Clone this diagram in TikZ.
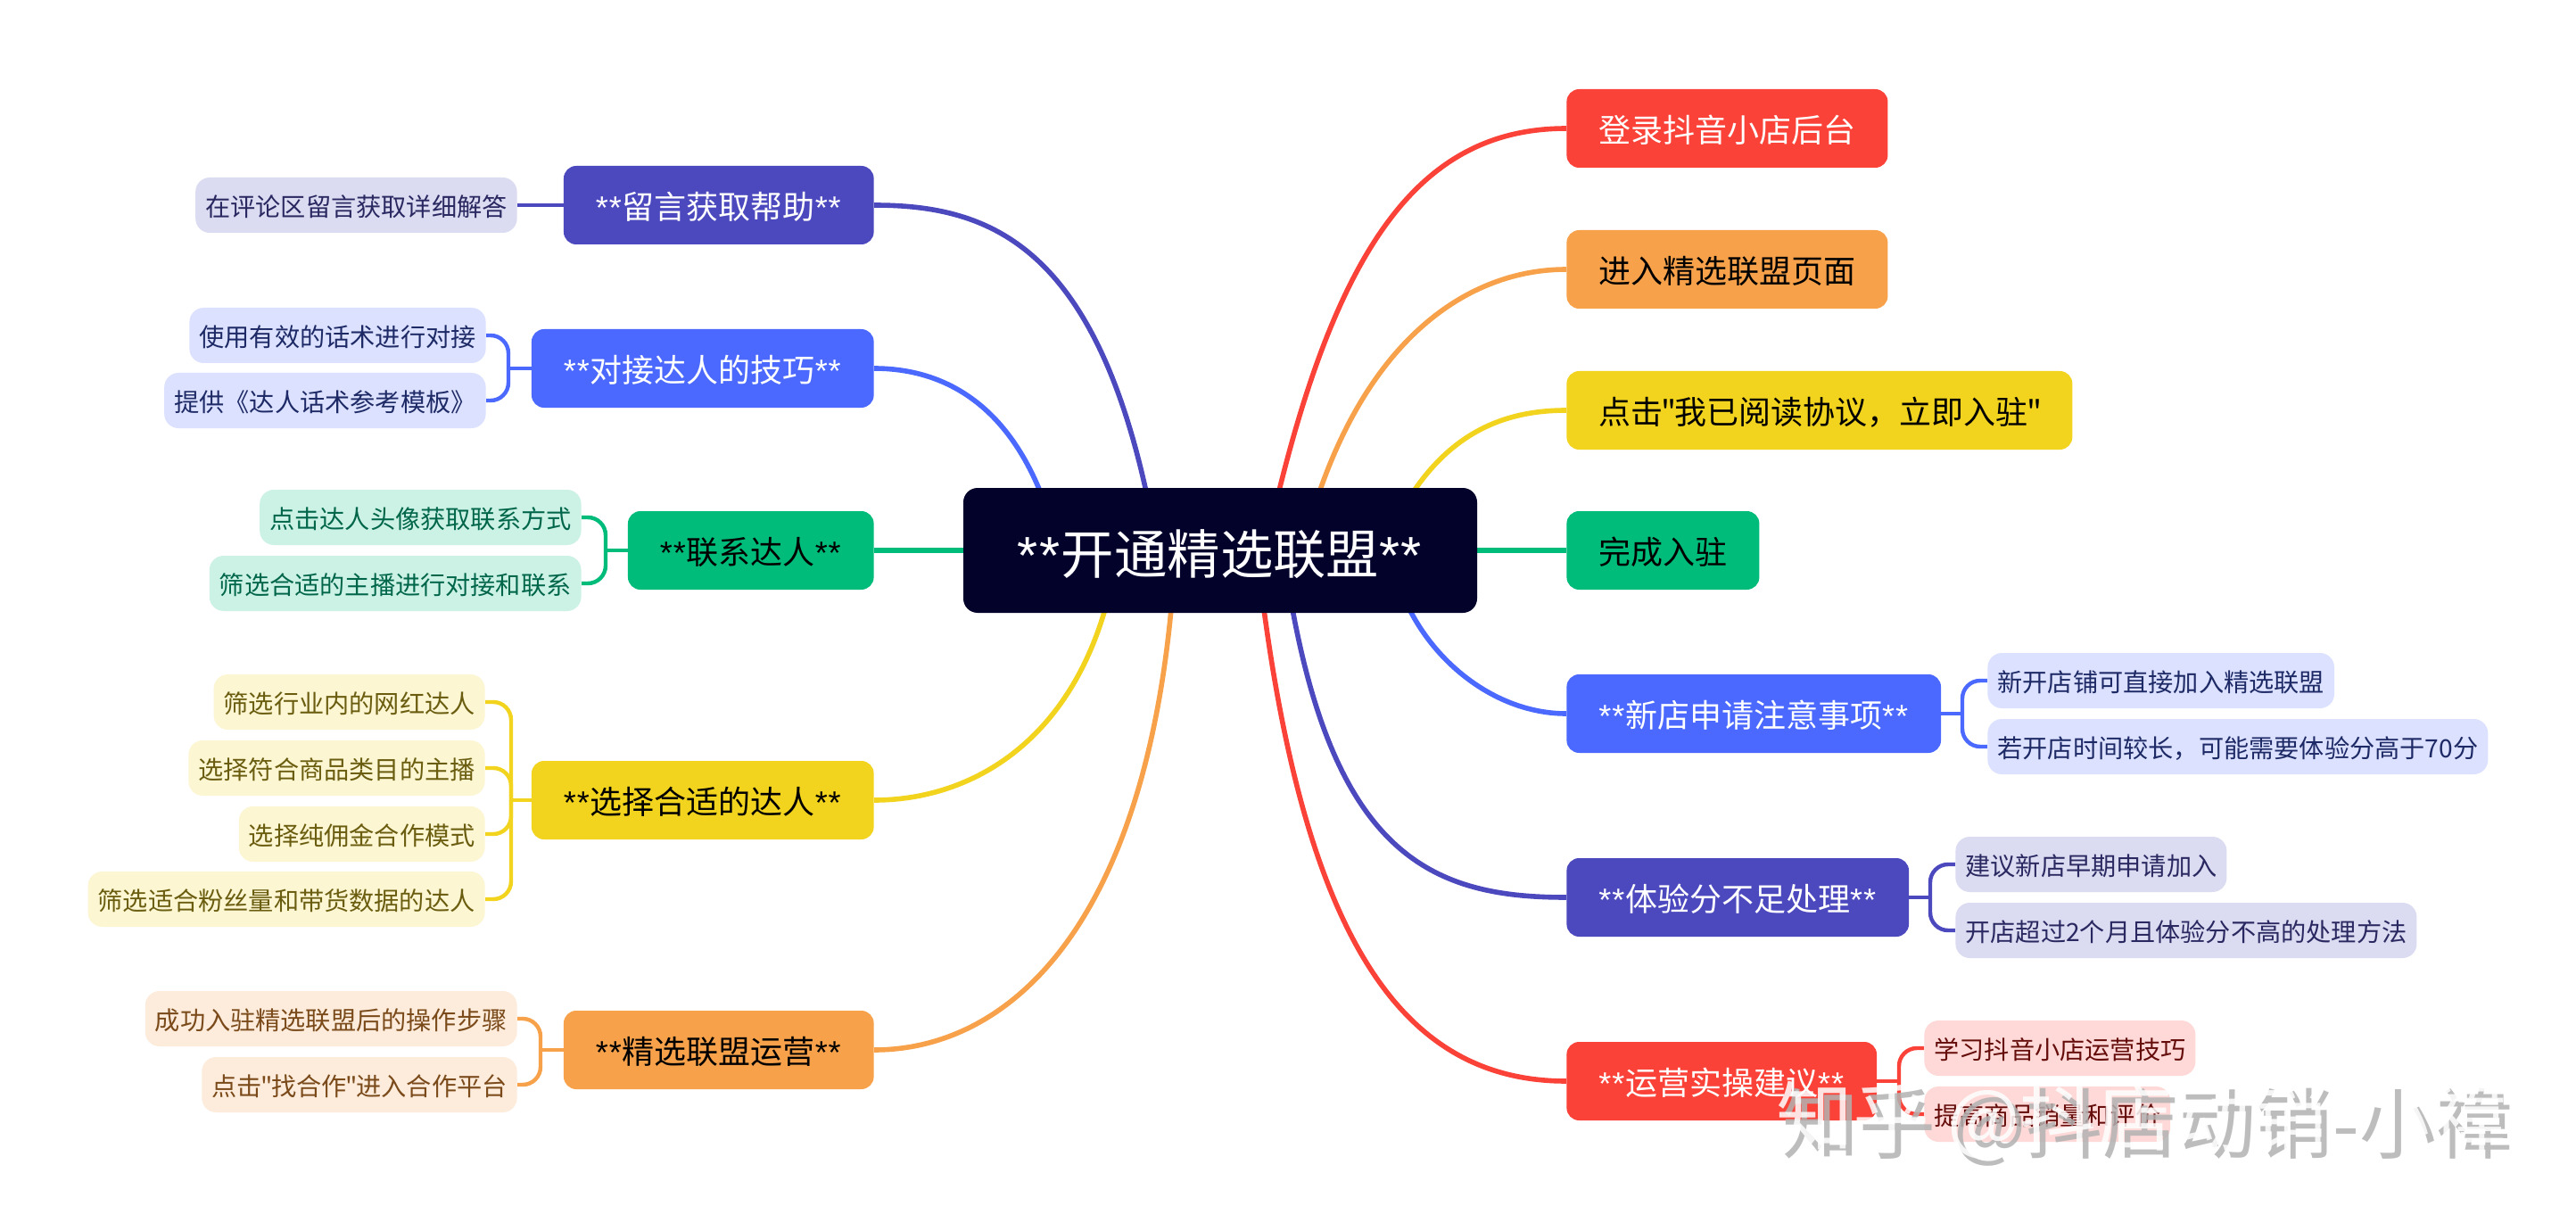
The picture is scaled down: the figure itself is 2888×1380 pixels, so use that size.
\documentclass[tikz,border=0pt]{standalone}
\usepackage{fontspec}
\setmainfont{Noto Sans CJK SC}[Ligatures=TeXOff]
\newfontfamily\starfont{Liberation Sans}
\newcommand{\stars}{{\starfont *\kern.025em*\kern.025em}}
\newcommand{\quot}{\kern-.05em"\kern-.05em}
\usetikzlibrary{backgrounds}
\definecolor{cRoot}{HTML}{02022B}
\definecolor{cRed}{HTML}{FB4238}
\definecolor{cOrange}{HTML}{F7A24B}
\definecolor{cYellow}{HTML}{F2D41F}
\definecolor{cGreen}{HTML}{00BC7B}
\definecolor{cBlue}{HTML}{4B69FF}
\definecolor{cIndigo}{HTML}{4C49BF}
\definecolor{kRed}{HTML}{FED9D7}
\definecolor{kOrange}{HTML}{FDECDB}
\definecolor{kYellow}{HTML}{FCF6D2}
\definecolor{kGreen}{HTML}{CCF2E5}
\definecolor{kBlue}{HTML}{DBE1FF}
\definecolor{kIndigo}{HTML}{DBDBF2}
\definecolor{tRed}{HTML}{650D0B}
\definecolor{tOrange}{HTML}{7A4A1A}
\definecolor{tYellow}{HTML}{6B5D10}
\definecolor{tGreen}{HTML}{00664A}
\definecolor{tBlue}{HTML}{1E2A66}
\definecolor{tIndigo}{HTML}{2A2860}
\tikzset{
  rootnode/.style={fill=cRoot, text=white, rounded corners=8pt, minimum height=70pt,
    minimum width=288pt, inner sep=0pt, text height=27.9pt, text depth=1.8pt,
    font=\fontsize{29.7pt}{34pt}\selectfont},
  topic/.style={rounded corners=7pt, minimum height=44pt, inner xsep=18pt, inner ysep=0pt,
    text height=16.9pt, text depth=1.1pt, font=\fontsize{18pt}{22pt}\selectfont},
  kid/.style={rounded corners=8pt, minimum height=31pt, inner xsep=5.5pt, inner ysep=0pt,
    text height=13.3pt, text depth=.85pt, font=\fontsize{14.1pt}{17pt}\selectfont},
  mainline/.style={line width=2.8pt},
  kidline/.style={line width=2.2pt, rounded corners=10pt},
  mark text/.style={font=\fontsize{43pt}{48pt}\selectfont, inner sep=0pt}
}
\begin{document}
\begin{tikzpicture}[x=0.5pt, y=-0.5pt]
  \useasboundingbox (0,0) rectangle (2888,1380);

  \node [rootnode] (root) at (1368,617) {\stars 开通精选联盟\stars};

  \node [topic, fill=cRed, text=white, anchor=west]    (login)  at (1756,144)  {登录抖音小店后台};
  \node [topic, fill=cOrange, anchor=west]             (enter)  at (1756,302)  {进入精选联盟页面};
  \node [topic, fill=cYellow, anchor=west]             (agree)  at (1756,460)  {点击\quot 我已阅读协议，立即入驻\quot};
  \node [topic, fill=cGreen, anchor=west]              (finish) at (1756,617)  {完成入驻};
  \node [topic, fill=cBlue, text=white, anchor=west]   (newshop) at (1756,800) {\stars 新店申请注意事项\stars};
  \node [topic, fill=cIndigo, text=white, anchor=west] (score)  at (1756,1006) {\stars 体验分不足处理\stars};
  \node [topic, fill=cRed, text=white, anchor=west]    (advice) at (1756,1212) {\stars 运营实操建议\stars};

  \node [topic, fill=cIndigo, text=white, anchor=east] (help)    at (980,230)  {\stars 留言获取帮助\stars};
  \node [topic, fill=cBlue, text=white, anchor=east]   (skill)   at (980,413)  {\stars 对接达人的技巧\stars};
  \node [topic, fill=cGreen, anchor=east]              (contact) at (980,617)  {\stars 联系达人\stars};
  \node [topic, fill=cYellow, anchor=east]             (choose)  at (980,897)  {\stars 选择合适的达人\stars};
  \node [topic, fill=cOrange, anchor=east]             (operate) at (980,1177) {\stars 精选联盟运营\stars};

  \node [kid, fill=kBlue, text=tBlue, anchor=west]     (newa)   at (2228,763)  {新开店铺可直接加入精选联盟};
  \node [kid, fill=kBlue, text=tBlue, anchor=west]     (newb)   at (2228,837)  {若开店时间较长，可能需要体验分高于70分};
  \node [kid, fill=kIndigo, text=tIndigo, anchor=west] (scorea) at (2192,969)  {建议新店早期申请加入};
  \node [kid, fill=kIndigo, text=tIndigo, anchor=west] (scoreb) at (2192,1043) {开店超过2个月且体验分不高的处理方法};
  \node [kid, fill=kRed, text=tRed, anchor=west]       (advicea) at (2157,1175) {学习抖音小店运营技巧};
  \node [kid, fill=kRed, text=tRed, anchor=west]       (adviceb) at (2157,1249) {提高商品销量和评价};

  \node [kid, fill=kIndigo, text=tIndigo, anchor=east] (helpa)    at (580,230)  {在评论区留言获取详细解答};
  \node [kid, fill=kBlue, text=tBlue, anchor=east]     (skilla)   at (545,376)  {使用有效的话术进行对接};
  \node [kid, fill=kBlue, text=tBlue, anchor=east]     (skillb)   at (545,449)  {提供《达人话术参考模板》};
  \node [kid, fill=kGreen, text=tGreen, anchor=east]   (contacta) at (652,580)  {点击达人头像获取联系方式};
  \node [kid, fill=kGreen, text=tGreen, anchor=east]   (contactb) at (652,654)  {筛选合适的主播进行对接和联系};
  \node [kid, fill=kYellow, text=tYellow, anchor=east] (choosea)  at (544,787)  {筛选行业内的网红达人};
  \node [kid, fill=kYellow, text=tYellow, anchor=east] (chooseb)  at (544,861)  {选择符合商品类目的主播};
  \node [kid, fill=kYellow, text=tYellow, anchor=east] (choosec)  at (544,935)  {选择纯佣金合作模式};
  \node [kid, fill=kYellow, text=tYellow, anchor=east] (choosed)  at (544,1008) {筛选适合粉丝量和带货数据的达人};
  \node [kid, fill=kOrange, text=tOrange, anchor=east] (operatea) at (580,1142) {成功入驻精选联盟后的操作步骤};
  \node [kid, fill=kOrange, text=tOrange, anchor=east] (operateb) at (580,1216) {点击\quot 找合作\quot 进入合作平台};

  \coordinate (sa) at (1428,575);
  \coordinate (sb) at (1470,580);
  \coordinate (sc) at (1570,575);
  \coordinate (sd) at (1570,660);
  \coordinate (se) at (1445,660);
  \coordinate (sf) at (1414,660);
  \coordinate (sg) at (1290,575);
  \coordinate (sh) at (1175,575);
  \coordinate (si) at (1245,660);
  \coordinate (sj) at (1315,660);

  \coordinate (tnew)     at (2200,800);
  \coordinate (tscore)   at (2164,1006);
  \coordinate (tadvice)  at (2129,1212);
  \coordinate (tskill)   at (570,413);
  \coordinate (tcontact) at (679,617);
  \coordinate (tchoose)  at (573,897);
  \coordinate (toperate) at (606,1177);

  \begin{scope}[on background layer]
    \fill [white] (0,0) rectangle (2888,1380);

    \draw [mainline, cRed]    (sa) .. controls +(72,-306) and +(-160,0) .. (login.west);
    \draw [mainline, cOrange] (sb) .. controls +(60,-200) and +(-110,0) .. (enter.west);
    \draw [mainline, cYellow] (sc) .. controls +(50,-90) and +(-70,0) .. (agree.west);
    \draw [mainline, cGreen]  (root.east) -- (finish.west);
    \draw [mainline, cBlue]   (sd) .. controls +(30,80) and +(-80,0) .. (newshop.west);
    \draw [mainline, cIndigo] (se) .. controls +(50,300) and +(-150,0) .. (score.west);
    \draw [mainline, cRed]    (sf) .. controls +(50,400) and +(-180,0) .. (advice.west);

    \draw [mainline, cIndigo] (sg) .. controls +(-60,-300) and +(130,0) .. (help.east);
    \draw [mainline, cBlue]   (sh) .. controls +(-40,-120) and +(80,0) .. (skill.east);
    \draw [mainline, cGreen]  (root.west) -- (contact.east);
    \draw [mainline, cYellow] (si) .. controls +(-40,170) and +(110,0) .. (choose.east);
    \draw [mainline, cOrange] (sj) .. controls +(-30,380) and +(150,0) .. (operate.east);

    \draw [kidline, cBlue]   (newa.west) -| (tnew);
    \draw [kidline, cBlue]   (newb.west) -| (tnew);
    \draw [kidline, cBlue]   (newshop.east) -- (tnew);
    \draw [kidline, cIndigo] (scorea.west) -| (tscore);
    \draw [kidline, cIndigo] (scoreb.west) -| (tscore);
    \draw [kidline, cIndigo] (score.east) -- (tscore);
    \draw [kidline, cRed]    (advicea.west) -| (tadvice);
    \draw [kidline, cRed]    (adviceb.west) -| (tadvice);
    \draw [kidline, cRed]    (advice.east) -- (tadvice);

    \draw [kidline, cIndigo] (helpa.east) -- (help.west);
    \draw [kidline, cBlue]   (skilla.east) -| (tskill);
    \draw [kidline, cBlue]   (skillb.east) -| (tskill);
    \draw [kidline, cBlue]   (skill.west) -- (tskill);
    \draw [kidline, cGreen]  (contacta.east) -| (tcontact);
    \draw [kidline, cGreen]  (contactb.east) -| (tcontact);
    \draw [kidline, cGreen]  (contact.west) -- (tcontact);
    \draw [kidline, cYellow] (choosea.east) -| (tchoose);
    \draw [kidline, cYellow] (chooseb.east) -| (tchoose);
    \draw [kidline, cYellow] (choosec.east) -| (tchoose);
    \draw [kidline, cYellow] (choosed.east) -| (tchoose);
    \draw [kidline, cYellow] (choose.west) -- (tchoose);
    \draw [kidline, cOrange] (operatea.east) -| (toperate);
    \draw [kidline, cOrange] (operateb.east) -| (toperate);
    \draw [kidline, cOrange] (operate.west) -- (toperate);
  \end{scope}

  \node [mark text, text=black!30, text opacity=.85] (markshadow) at (2408,1264) {知乎 @抖店动销-小禕};
  \node [mark text, text=white, text opacity=.85]    (mark)       at (2401,1256) {知乎 @抖店动销-小禕};
\end{tikzpicture}
\end{document}
